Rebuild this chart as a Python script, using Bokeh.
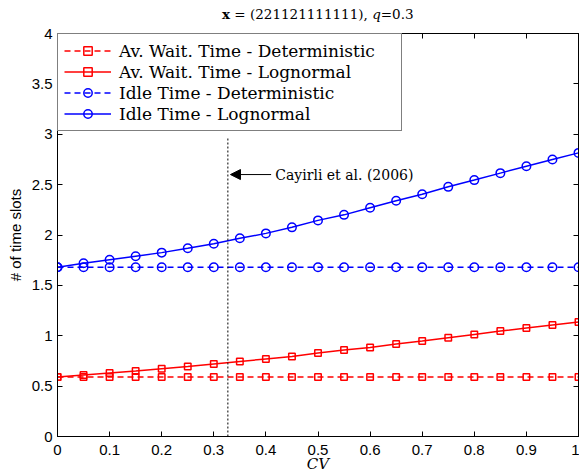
from bokeh.plotting import figure
from bokeh.layouts import column
from bokeh.models import (LinearAxis, Range1d, FixedTicker, Legend, LegendItem,
                          Label, Arrow, NormalHead, Div)
from bokeh.embed import file_html
from bokeh.resources import INLINE

# ---------------- data ----------------
cv = [0.0, 0.05, 0.1, 0.15, 0.2, 0.25, 0.3, 0.35, 0.4, 0.45, 0.5,
      0.55, 0.6, 0.65, 0.7, 0.75, 0.8, 0.85, 0.9, 0.95, 1.0]
wait_det = [0.59, 0.59, 0.59, 0.59, 0.59, 0.59, 0.59, 0.59, 0.59, 0.59, 0.59,
            0.59, 0.59, 0.59, 0.59, 0.59, 0.59, 0.59, 0.59, 0.59, 0.59]
wait_logn = [0.59, 0.61, 0.63, 0.65, 0.672, 0.695, 0.72, 0.745, 0.77, 0.795, 0.828,
             0.858, 0.884, 0.917, 0.947, 0.98, 1.013, 1.046, 1.076, 1.106, 1.136]
idle_det = [1.68, 1.68, 1.68, 1.68, 1.68, 1.68, 1.68, 1.68, 1.68, 1.68, 1.68,
            1.68, 1.68, 1.68, 1.68, 1.68, 1.68, 1.68, 1.68, 1.68, 1.68]
idle_logn = [1.68, 1.72, 1.755, 1.79, 1.825, 1.868, 1.914, 1.967, 2.016, 2.076, 2.145,
             2.20, 2.27, 2.34, 2.405, 2.478, 2.545, 2.614, 2.683, 2.75, 2.815]

x_ticks = [0, 0.1, 0.2, 0.3, 0.4, 0.5, 0.6, 0.7, 0.8, 0.9, 1]
x_tick_labels = ["0", "0.1", "0.2", "0.3", "0.4", "0.5", "0.6", "0.7", "0.8", "0.9", "1"]
y_ticks = [0, 0.5, 1, 1.5, 2, 2.5, 3, 3.5, 4]
y_tick_labels = ["0", "0.5", "1", "1.5", "2", "2.5", "3", "3.5", "4"]

series_names = ["Av. Wait. Time - Deterministic", "Av. Wait. Time - Lognormal",
                "Idle Time - Deterministic", "Idle Time - Lognormal"]

x_label = "CV"
y_label = "# of time slots"
title_html = "<b>x</b> = (221121111111), <i>q</i>=0.3"

cayirli_cv = 0.327
cayirli_top = 2.97
cayirli_arrow_y = 2.6
cayirli_arrow_start = 0.41
cayirli_text = "Cayirli et al. (2006)"

# ---------------- figure ----------------
SERIF = "DejaVu Serif"
SANS = "Liberation Sans"
TITLE_H = 24

title_div = Div(text=title_html, width=579, height=TITLE_H, margin=(0, 0, 0, 0),
                styles={"font-family": SERIF, "font-size": "13.5px",
                        "text-align": "left", "padding-left": "222px",
                        "line-height": "28px", "color": "black",
                        "white-space": "nowrap"})

p = figure(width=579, height=475 - TITLE_H, x_range=Range1d(0, 1), y_range=Range1d(0, 4),
           output_backend="svg", toolbar_location=None,
           min_border_left=57, min_border_right=1, min_border_top=33 - TITLE_H,
           min_border_bottom=38)
p.xgrid.visible = False
p.ygrid.visible = False
p.outline_line_color = "black"
p.outline_line_width = 1
p.background_fill_color = "white"
p.border_fill_color = "white"

def style_axis(ax, ticks, labels, show_labels=True):
    ax.ticker = FixedTicker(ticks=ticks)
    ax.major_tick_in = 5
    ax.major_tick_out = 0
    ax.minor_tick_line_color = None
    ax.axis_line_color = "black"
    ax.major_tick_line_color = "black"
    ax.major_label_text_font = SANS
    ax.major_label_text_color = "black"
    if show_labels:
        ax.major_label_text_font_size = "15px"
        ax.major_label_overrides = {t: l for t, l in zip(ticks, labels)}
    else:
        ax.major_label_text_font_size = "1px"
        ax.major_label_overrides = {t: "" for t in ticks}
        ax.major_label_standoff = 0

style_axis(p.xaxis[0], x_ticks, x_tick_labels)
style_axis(p.yaxis[0], y_ticks, y_tick_labels)
p.xaxis[0].major_label_standoff = 8
p.yaxis[0].major_label_standoff = 5

p.xaxis[0].axis_label = x_label
p.xaxis[0].axis_label_text_font = SERIF
p.xaxis[0].axis_label_text_font_style = "italic"
p.xaxis[0].axis_label_text_font_size = "15px"
p.xaxis[0].axis_label_text_color = "black"
p.xaxis[0].axis_label_standoff = -3

p.yaxis[0].axis_label = y_label
p.yaxis[0].axis_label_text_font = SANS
p.yaxis[0].axis_label_text_font_style = "normal"
p.yaxis[0].axis_label_text_font_size = "15px"
p.yaxis[0].axis_label_text_color = "black"
p.yaxis[0].axis_label_standoff = 5

top_ax = LinearAxis()
style_axis(top_ax, x_ticks, x_tick_labels, show_labels=False)
p.add_layout(top_ax, "above")
right_ax = LinearAxis()
style_axis(right_ax, y_ticks, y_tick_labels, show_labels=False)
p.add_layout(right_ax, "right")

# ---------------- series ----------------
RED = "#ff0000"
BLUE = "#0000ff"
items = []
specs = [
    (wait_det, RED, "6 4", "square", 6.5),
    (wait_logn, RED, "solid", "square", 6.5),
    (idle_det, BLUE, "6 4", "circle", 8.5),
    (idle_logn, BLUE, "solid", "circle", 8.5),
]
for name, (ys, color, dash, marker, size) in zip(series_names, specs):
    l = p.line(cv, ys, line_color=color, line_width=1.5, line_dash=dash)
    s = p.scatter(cv, ys, marker=marker, size=size, line_color=color,
                  line_width=1.5, fill_color=None)
    items.append(LegendItem(label=name, renderers=[l, s]))

legend = Legend(items=items, location="top_left", margin=0, padding=6, spacing=0,
                glyph_width=47, glyph_height=21, label_height=21, label_width=276,
                label_standoff=8, label_text_font=SERIF,
                label_text_font_size="17px", label_text_color="black",
                border_line_color="black", border_line_width=1,
                background_fill_color="white", background_fill_alpha=1)
p.add_layout(legend, "center")

# ---------------- annotation ----------------
p.segment(x0=[cayirli_cv], y0=[0], x1=[cayirli_cv], y1=[cayirli_top],
          line_color="black", line_width=1, line_dash="2 2")
p.add_layout(Arrow(end=NormalHead(size=10, fill_color="black", line_color="black"),
                   x_start=cayirli_arrow_start, y_start=cayirli_arrow_y,
                   x_end=cayirli_cv + 0.005, y_end=cayirli_arrow_y,
                   line_color="black", line_width=1))
p.add_layout(Label(x=cayirli_arrow_start + 0.008, y=cayirli_arrow_y, text=cayirli_text,
                   text_font=SERIF, text_font_size="14px",
                   text_baseline="middle", text_align="left", text_color="black"))

layout = column(title_div, p, spacing=0)
open("out.html", "w").write(file_html(layout, INLINE))
